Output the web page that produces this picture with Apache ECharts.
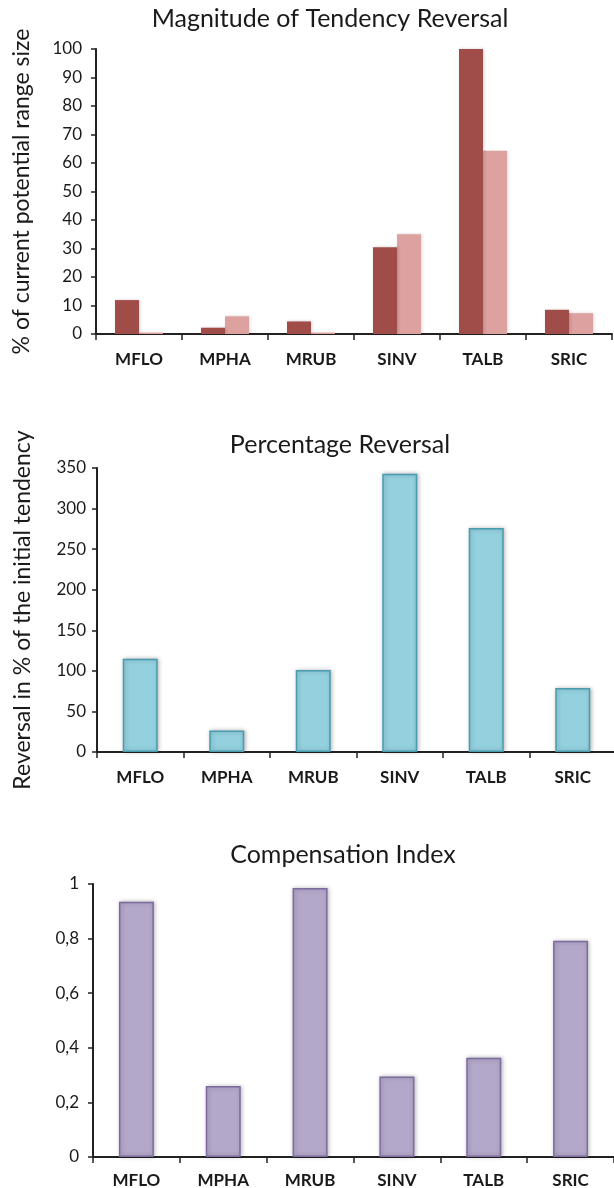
<!DOCTYPE html>
<html>
<head>
<meta charset="utf-8">
<script src="https://cdn.jsdelivr.net/npm/echarts@6/dist/echarts.min.js"></script>
<style>
  html, body { margin: 0; padding: 0; background: #ffffff; }
  #chart { width: 614px; height: 1188px; }
</style>
</head>
<body>
<div id="chart"></div>
<script>
// Species codes shared by all three panels
const categories = ['MFLO', 'MPHA', 'MRUB', 'SINV', 'TALB', 'SRIC'];

// Panel 1: magnitude of tendency reversal (% of current potential range size)
const magnitudeDark  = [11.9, 2.2, 4.4, 30.4, 100, 8.5];
const magnitudeLight = [0.5, 6.2, 0.5, 35.0, 64.3, 7.3];
const magnitudeTicks = { min: 0, max: 100, interval: 10 };

// Panel 2: percentage reversal (% of the initial tendency)
const reversalPct = [115, 26.5, 101, 343, 276, 79];
const reversalTicks = { min: 0, max: 350, interval: 50 };

// Panel 3: compensation index
const compensation = [0.935, 0.26, 0.985, 0.295, 0.364, 0.792];
const compensationTicks = { min: 0, max: 1, interval: 0.2 };

const FONT = 'Lato, "Open Sans", sans-serif';
const INK = '#1a1a1a';

function valueAxis(gridIndex, ticks, labelMargin, name, nameGap, formatter) {
  return {
    type: 'value',
    gridIndex: gridIndex,
    min: ticks.min,
    max: ticks.max,
    interval: ticks.interval,
    name: name || '',
    nameLocation: 'middle',
    nameGap: nameGap || 0,
    nameTextStyle: { fontFamily: FONT, fontSize: 23, color: INK },
    axisLine: { show: true, lineStyle: { color: '#222', width: 2 } },
    axisTick: { show: true, length: 5, lineStyle: { color: '#222', width: 1.5 } },
    axisLabel: {
      fontFamily: FONT, fontSize: 17, color: INK, margin: labelMargin,
      formatter: formatter
    },
    splitLine: { show: false }
  };
}

function categoryAxis(gridIndex, labelMargin) {
  return {
    type: 'category',
    gridIndex: gridIndex,
    data: categories,
    axisLine: { show: true, lineStyle: { color: '#222', width: 2 } },
    axisTick: { show: true, length: 6, lineStyle: { color: '#222', width: 1.5 } },
    axisLabel: { fontFamily: FONT, fontSize: 17, fontWeight: 'bold', color: INK, margin: labelMargin },
    splitLine: { show: false }
  };
}

const chart = echarts.init(document.getElementById('chart'), null, { renderer: 'canvas' });

const titleStyle = { fontFamily: FONT, fontSize: 25, fontWeight: 'normal', color: INK };

chart.setOption({
  backgroundColor: '#ffffff',
  animation: false,
  title: [
    { text: 'Magnitude of Tendency Reversal', left: 330, top: 6, textAlign: 'center', padding: 0, textStyle: titleStyle },
    { text: 'Percentage Reversal', left: 340, top: 432, textAlign: 'center', padding: 0, textStyle: titleStyle },
    { text: 'Compensation Index', left: 343, top: 842, textAlign: 'center', padding: 0, textStyle: titleStyle }
  ],
  // fixed plot rectangles; labels may sit close to the page edge
  grid: [
    { left: 96, top: 49, width: 516, height: 285, outerBoundsMode: 'none' },
    { left: 97, top: 468, width: 519, height: 284, outerBoundsMode: 'none' },
    { left: 93, top: 884, width: 521, height: 273, outerBoundsMode: 'none' }
  ],
  xAxis: [categoryAxis(0, 17), categoryAxis(1, 17), categoryAxis(2, 15)],
  yAxis: [
    valueAxis(0, magnitudeTicks, 14, '% of current potential range size', 63),
    valueAxis(1, reversalTicks, 11, 'Reversal in % of the initial tendency', 63),
    valueAxis(2, compensationTicks, 14, '', 0, function (v) { return String(+v.toFixed(1)).replace('.', ','); })
  ],
  series: [
    {
      type: 'bar', xAxisIndex: 0, yAxisIndex: 0,
      data: magnitudeDark, barWidth: 24, barGap: '0%',
      itemStyle: { color: '#a04c49', shadowColor: 'rgba(0,0,0,0.18)', shadowBlur: 3, shadowOffsetX: 1 },
      z: 3
    },
    {
      type: 'bar', xAxisIndex: 0, yAxisIndex: 0,
      data: magnitudeLight, barWidth: 24, barGap: '0%',
      itemStyle: { color: '#dda19f', shadowColor: 'rgba(0,0,0,0.15)', shadowBlur: 3, shadowOffsetX: 1 },
      z: 2
    },
    {
      type: 'bar', xAxisIndex: 1, yAxisIndex: 1,
      data: reversalPct, barWidth: 35,
      itemStyle: {
        color: '#93d1de', borderColor: '#4a9bb0', borderWidth: 1.5,
        shadowColor: 'rgba(0,0,0,0.25)', shadowBlur: 4, shadowOffsetX: 1
      }
    },
    {
      type: 'bar', xAxisIndex: 2, yAxisIndex: 2,
      data: compensation, barWidth: 35,
      itemStyle: {
        color: '#b4a8ca', borderColor: '#7d6a9e', borderWidth: 1.5,
        shadowColor: 'rgba(0,0,0,0.25)', shadowBlur: 4, shadowOffsetX: 1
      }
    }
  ]
});
</script>
</body>
</html>
